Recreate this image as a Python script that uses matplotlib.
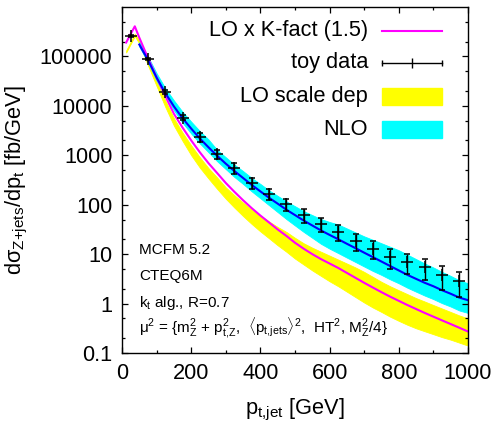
import matplotlib
matplotlib.use("Agg")
from matplotlib import pyplot as plt
from matplotlib.patches import Rectangle

plt.rcParams['font.family'] = ['Liberation Sans', 'DejaVu Sans']
plt.rcParams['mathtext.fontset'] = 'custom'
plt.rcParams['mathtext.rm'] = 'Liberation Sans'
plt.rcParams['mathtext.it'] = 'Liberation Sans'
plt.rcParams['mathtext.bf'] = 'Liberation Sans:bold'

# toy data points
data_pt = list(range(25, 1000, 50))
data_val = [260000, 89000, 19000, 5800, 2300, 1060, 560, 275, 168, 104,
            62, 41, 28.5, 18.5, 13, 8.9, 6.9, 5.5, 3.8, 2.85]
data_err = [7800, 4500, 1500, 700, 460, 233, 134, 69, 42, 28,
            18.6, 13.4, 10, 6.7, 5.2, 3.8, 3.0, 2.5, 1.9, 1.5]

# LO curves
lo_pt = [12, 37] + list(range(50, 1001, 25))
lo_kfact = [191000, 407000, 240000, 93300, 38000, 15850, 6920, 3630, 2000, 1150,
            692, 437, 275, 182, 123, 85.1, 60.3, 43.7, 31.6, 23.4,
            17.0, 12.9, 10.0, 7.94, 6.46, 5.25, 4.17, 3.31, 2.63, 2.11,
            1.70, 1.38, 1.135, 0.933, 0.776, 0.646, 0.543, 0.457, 0.385, 0.324, 0.272]
lo_up = [132000, 288000, 209000, 79400, 31600, 12900, 5620, 2880, 1585, 912,
         550, 355, 224, 155, 110, 79.4, 60.3, 45.7, 35.5, 28.2,
         21.4, 16.6, 13.5, 11.2, 9.33, 7.76, 6.46, 5.37, 4.37, 3.47,
         2.75, 2.24, 1.86, 1.55, 1.29, 1.10, 0.933, 0.794, 0.676, 0.575, 0.501]
lo_down = [120000, 257000, 182000, 66100, 25100, 9550, 3980, 1950, 1000, 562,
           339, 209, 132, 87.1, 58.9, 40.7, 28.8, 20.9, 15.1, 11.2,
           8.13, 6.17, 4.68, 3.63, 2.82, 2.24, 1.74, 1.35, 1.05, 0.832,
           0.676, 0.543, 0.447, 0.372, 0.316, 0.275, 0.240, 0.209, 0.186, 0.162, 0.141]

# NLO curves
nlo_pt = list(range(50, 1001, 25))
nlo_central = [174000, 85100, 37200, 18200, 9770, 5620, 3470, 2190, 1450, 977,
               676, 479, 347, 251, 186, 138, 105, 79.4, 61.7, 47.9,
               38.0, 30.2, 24.5, 20.0, 16.2, 13.2, 10.7, 8.71, 7.08, 5.75,
               4.68, 3.80, 3.16, 2.63, 2.24, 1.86, 1.58, 1.32, 1.17]
nlo_up = [195000, 100000, 45700, 22900, 12900, 7590, 4790, 3090, 2090, 1290,
          912, 646, 479, 347, 263, 195, 151, 117, 93.3, 74.1,
          61.7, 51.3, 44.7, 39.8, 33.1, 27.5, 22.9, 19.5, 16.6, 14.1,
          12.0, 9.77, 7.94, 6.46, 5.37, 4.37, 3.63, 2.95, 2.57]
nlo_down = [158000, 75900, 32400, 15500, 8130, 4570, 2750, 1740, 1150, 759,
            525, 363, 263, 186, 135, 97.7, 70.8, 51.3, 38.0, 28.2,
            21.4, 16.2, 12.9, 10.5, 8.51, 6.92, 5.62, 4.57, 3.80, 3.09,
            2.57, 2.09, 1.74, 1.45, 1.23, 1.02, 0.871, 0.724, 0.646]

yticks = [0.1, 1, 10, 100, 1000, 10000, 100000]
ytick_labels = ['0.1', '1', '10', '100', '1000', '10000', '100000']
xticks = [0, 200, 400, 600, 800, 1000]

YELLOW = '#ffff00'
CYAN = '#00ffff'
MAGENTA = '#ff00ff'
BLUE = '#0000ff'

fig = plt.figure(figsize=(4.97, 4.23), dpi=100)
ax = fig.add_axes([122 / 497, 1 - 353 / 423, 346 / 497, 346 / 423])

ax.fill_between(lo_pt, lo_down, lo_up, color=YELLOW, lw=0.6, edgecolor=YELLOW)
ax.fill_between(nlo_pt, nlo_down, nlo_up, color=CYAN, lw=0.6, edgecolor=CYAN)
ax.plot(lo_pt, lo_kfact, color=MAGENTA, lw=1.5)
ax.plot(nlo_pt, nlo_central, color=BLUE, lw=1.5)
ax.errorbar(data_pt, data_val, yerr=data_err, fmt='+', color='black',
            ms=9.2, mew=1.1, elinewidth=1.0, capsize=2.2, capthick=1.0)

ax.set_yscale('log')
ax.set_xlim(0, 1000)
ax.set_ylim(0.1, 1e6)
ax.set_yticks(yticks)
ax.set_yticklabels(ytick_labels)
ax.set_yticks([m * 10.0 ** e for e in range(-1, 6) for m in (2, 5)], minor=True)
ax.yaxis.set_minor_formatter(plt.NullFormatter())
ax.set_xticks(xticks)
ax.set_xticks([100, 300, 500, 700, 900], minor=True)
ax.tick_params(which='both', direction='in', top=True, right=True,
               labelsize=15.7, width=0.9)
ax.tick_params(which='major', length=4.5, pad=7)
ax.tick_params(which='minor', length=2.5)
for s in ax.spines.values():
    s.set_linewidth(1.0)

# key, gnuplot style: text right-justified, sample on the right
tx = 0.711
sx0, sx1 = 0.751, 0.925
rows = [0.932, 0.839, 0.742, 0.647]
ax.text(tx, rows[0], 'LO x K-fact (1.5)', transform=ax.transAxes, ha='right', va='center', fontsize=15.7)
ax.plot([sx0, sx1], [rows[0]] * 2, color=MAGENTA, lw=1.5, transform=ax.transAxes)
ax.text(tx, rows[1], 'toy data', transform=ax.transAxes, ha='right', va='center', fontsize=15.7)
ax.plot([sx0, sx1], [rows[1]] * 2, color='black', lw=1.0, transform=ax.transAxes)
ax.plot([sx0, sx1], [rows[1]] * 2, ls='none', marker='|', ms=4.5, mew=1.0, color='black', transform=ax.transAxes)
ax.plot([(sx0 + sx1) / 2], [rows[1]], ls='none', marker='|', ms=7.2, mew=1.0, color='black', transform=ax.transAxes)
ax.text(tx, rows[2], 'LO scale dep', transform=ax.transAxes, ha='right', va='center', fontsize=15.7)
ax.add_patch(Rectangle((sx0, rows[2] - 0.0245), sx1 - sx0, 0.049, color=YELLOW, transform=ax.transAxes))
ax.text(tx, rows[3], 'NLO', transform=ax.transAxes, ha='right', va='center', fontsize=15.7)
ax.add_patch(Rectangle((sx0, rows[3] - 0.0245), sx1 - sx0, 0.049, color=CYAN, transform=ax.transAxes))

# run info
info_fs = 11
ax.text(0.049, 0.287, 'MCFM 5.2', transform=ax.transAxes, fontsize=info_fs, va='baseline')
ax.text(0.049, 0.210, 'CTEQ6M', transform=ax.transAxes, fontsize=info_fs, va='baseline')
ax.text(0.049, 0.132, 'k$_t$ alg., R=0.7', transform=ax.transAxes, fontsize=info_fs, va='baseline')
ax.text(0.049, 0.059,
        r'μ$^2$ = {m$_Z^2$ + p$_{t{,}Z}^2$,  $\langle$p$_{t{,}jets}$$\rangle^2$,  HT$^2$, M$_Z^2$/4}',
        transform=ax.transAxes, fontsize=info_fs, va='baseline')

fig.text(17 / 497, 1 - 180 / 423, 'dσ$_{Z{+}jets}$/dp$_t$ [fb/GeV]', rotation=90,
         ha='center', va='center', fontsize=15.7)
fig.text(295 / 497, 1 - 414 / 423, 'p$_{t{,}jet}$ [GeV]', ha='center', va='baseline', fontsize=15.7)

plt.savefig('out.png', dpi=100)
plt.close()
